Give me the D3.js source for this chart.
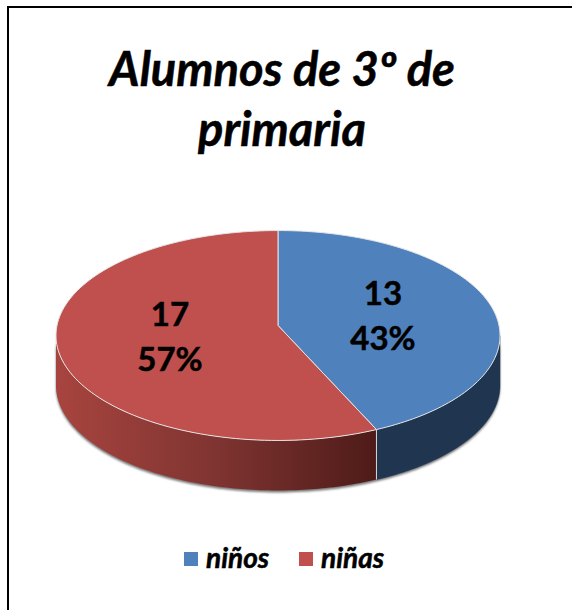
<!DOCTYPE html>
<html>
<head>
<meta charset="utf-8">
<script src="https://cdn.jsdelivr.net/npm/d3@7"></script>
<style>
html, body { margin: 0; padding: 0; background: #fff; }
svg { display: block; }
text { font-family: Lato, "Open Sans", sans-serif; font-weight: 700; fill: #000; stroke: #000; stroke-width: 0.5; }
</style>
</head>
<body>
<svg width="572" height="610"></svg>
<script>
var categories = ["niños", "niñas"];
var values = [13, 17];
var percents = ["43%", "57%"];
var colors = ["#4F81BD", "#C0504D"];
var titleLines = ["Alumnos de 3º de", "primaria"];

var svg = d3.select("svg");
var defs = svg.append("defs");

// pie tilted with a bit of perspective, near side looks bigger
var cx = 278, cy = 325.5, radius = 221, squash = 104, persp = -0.0953, depth = 50;

// angle 0 is the top of the pie, going clockwise like d3.pie
function project(a) {
	var u = Math.sin(a), v = -Math.cos(a);
	var k = 1 + persp * v;
	return [cx + radius * u / k, cy + squash * v / k];
}

function rimPoints(a0, a1, dy) {
	return d3.range(0, 121).map(function(i) {
		var p = project(a0 + (a1 - a0) * i / 120);
		return [p[0], p[1] + dy];
	});
}

var line = d3.line();
var arcs = d3.pie().sort(null)(values);
var split = arcs[0].endAngle;

// where the rim turns round at left and right
var rightTurn = Math.PI / 2 + 0.0953, leftTurn = 3 * Math.PI / 2 - 0.0953;

function wallPath(a0, a1) {
	var top = rimPoints(a0, a1, 0), bottom = rimPoints(a1, a0, depth);
	return line(top.concat(bottom)) + "Z";
}

var grad = defs.append("linearGradient")
	.attr("id", "redWall")
	.attr("gradientUnits", "userSpaceOnUse")
	.attr("x1", project(leftTurn)[0]).attr("x2", project(split)[0])
	.attr("y1", 0).attr("y2", 0);
grad.append("stop").attr("offset", 0).attr("stop-color", "#A8443F");
grad.append("stop").attr("offset", 0.5).attr("stop-color", "#7F3431");
grad.append("stop").attr("offset", 1).attr("stop-color", "#4E1B18");

defs.append("filter").attr("id", "blur")
	.attr("x", "-5%").attr("y", "-5%").attr("width", "110%").attr("height", "110%")
	.append("feGaussianBlur").attr("stdDeviation", 1);

// outer frame, runs off the right and bottom of the picture
svg.append("rect")
	.attr("x", 8).attr("y", 7)
	.attr("width", 640).attr("height", 640)
	.attr("fill", "none").attr("stroke", "#000").attr("stroke-width", 2);

// title
svg.append("g").selectAll("text")
	.data(titleLines)
	.enter().append("text")
	.attr("x", 282)
	.attr("y", function(d, i) { return 86 + i * 60; })
	.attr("text-anchor", "middle")
	.attr("font-size", 47)
	.attr("font-style", "italic")
	.text(function(d) { return d; });

// soft shadow under the wall
svg.append("path")
	.attr("d", wallPath(rightTurn, leftTurn))
	.attr("transform", "translate(0,2)")
	.attr("fill", "#777")
	.attr("filter", "url(#blur)");

// walls
svg.append("path")
	.attr("d", wallPath(rightTurn, split))
	.attr("fill", "#1F3550")
	.attr("stroke", "#1F3550").attr("stroke-width", 0.5);
svg.append("path")
	.attr("d", wallPath(split, leftTurn))
	.attr("fill", "url(#redWall)");
svg.append("path")
	.attr("d", line([project(split), [project(split)[0], project(split)[1] + depth]]))
	.attr("stroke", "#d9d9d9").attr("stroke-width", 1);

// top faces
svg.append("g").selectAll("path")
	.data(arcs)
	.enter().append("path")
	.attr("d", function(d) {
		return line([[cx, cy]].concat(rimPoints(d.startAngle, d.endAngle, 0))) + "Z";
	})
	.attr("fill", function(d, i) { return colors[i]; })
	.attr("stroke", "#e4e4e4").attr("stroke-width", 1).attr("stroke-linejoin", "round");

// value labels
var labelPos = [[383, 305], [170, 326]];
var labels = svg.append("g").selectAll("g")
	.data(arcs)
	.enter().append("g")
	.attr("transform", function(d, i) { return "translate(" + labelPos[i] + ")"; });
labels.append("text")
	.attr("text-anchor", "middle")
	.attr("font-size", 33)
	.text(function(d) { return d.value; });
labels.append("text")
	.attr("y", 45)
	.attr("text-anchor", "middle")
	.attr("font-size", 33)
	.text(function(d, i) { return percents[i]; });

// legend
var legendX = d3.scaleOrdinal().domain(categories).range([184, 299]);
var legend = svg.append("g").selectAll("g")
	.data(categories)
	.enter().append("g")
	.attr("transform", function(d) { return "translate(" + legendX(d) + ",552)"; });
legend.append("rect")
	.attr("width", 14).attr("height", 14)
	.attr("fill", function(d, i) { return colors[i]; });
legend.append("text")
	.attr("x", 22).attr("y", 16)
	.attr("font-size", 28)
	.attr("font-style", "italic")
	.text(function(d) { return d; });
</script>
</body>
</html>
